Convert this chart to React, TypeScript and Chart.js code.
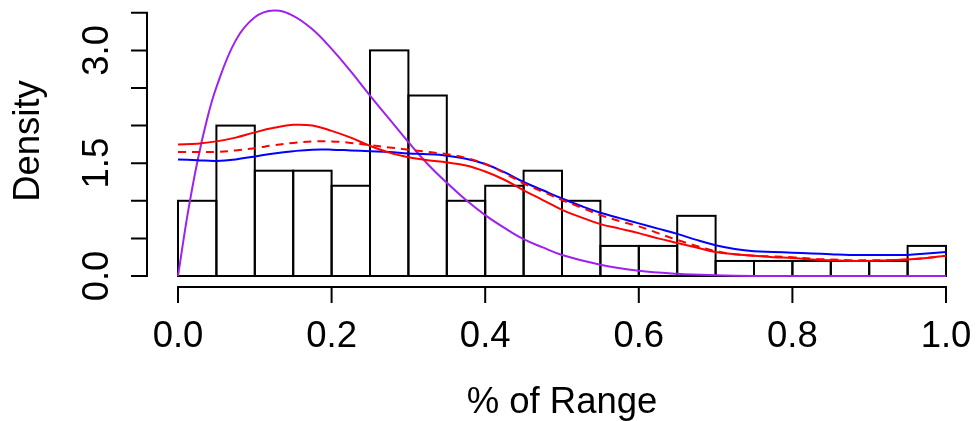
import React, { useEffect, useRef } from "react";
import { Chart, registerables } from "chart.js";

Chart.register(...registerables);

// Histogram bins (centres) and densities
const binCenters = [
  0.025, 0.075, 0.125, 0.175, 0.225, 0.275, 0.325, 0.375, 0.425, 0.475,
  0.525, 0.575, 0.625, 0.675, 0.725, 0.775, 0.825, 0.875, 0.925, 0.975,
];
const binDensity = [
  1.0, 2.0, 1.4, 1.4, 1.2, 3.0, 2.4, 1.0, 1.2, 1.4,
  1.0, 0.4, 0.4, 0.8, 0.2, 0.2, 0.2, 0.2, 0.2, 0.4,
];

// Purple curve
const purpleX = [
  0, 0.0125, 0.025, 0.0375, 0.05, 0.075, 0.1, 0.125, 0.15, 0.175, 0.2, 0.225,
  0.25, 0.275, 0.3, 0.325, 0.35, 0.375, 0.4, 0.425, 0.45, 0.475, 0.5, 0.55,
  0.6, 0.65, 0.7, 0.75, 0.8, 0.85, 0.9, 0.95, 1.0,
];
const purpleY = [
  0, 0.82, 1.51, 2.07, 2.51, 3.13, 3.44, 3.53, 3.46, 3.28, 3.02, 2.72,
  2.4, 2.09, 1.78, 1.49, 1.24, 1.01, 0.81, 0.64, 0.49, 0.38, 0.28, 0.15,
  0.07, 0.03, 0.01, 0.0, 0.0, 0.0, 0.0, 0.0, 0.0,
];

// Smooth curves (red solid, red dashed, blue)
const curveX = [
  0, 0.025, 0.05, 0.075, 0.1, 0.125, 0.15, 0.175, 0.2, 0.225, 0.25, 0.275,
  0.3, 0.325, 0.35, 0.375, 0.4, 0.425, 0.45, 0.475, 0.5, 0.525, 0.55, 0.575,
  0.6, 0.625, 0.65, 0.675, 0.7, 0.725, 0.75, 0.775, 0.8, 0.825, 0.85, 0.875,
  0.9, 0.925, 0.95, 0.975, 1.0,
];
const redSolidY = [
  1.75, 1.76, 1.79, 1.84, 1.91, 1.97, 2.01, 2.0, 1.93, 1.84, 1.73, 1.64,
  1.58, 1.54, 1.51, 1.47, 1.39, 1.28, 1.14, 1.01, 0.88, 0.78, 0.69, 0.63,
  0.57, 0.5, 0.44, 0.38, 0.32, 0.29, 0.27, 0.25, 0.24, 0.22, 0.21, 0.2,
  0.2, 0.21, 0.22, 0.24, 0.27,
];
const redDashedY = [
  1.65, 1.65, 1.65, 1.67, 1.7, 1.74, 1.77, 1.79, 1.79, 1.77, 1.74, 1.71,
  1.68, 1.65, 1.62, 1.57, 1.49, 1.37, 1.23, 1.12, 1.01, 0.91, 0.81, 0.73,
  0.66, 0.57, 0.48, 0.4, 0.33, 0.29, 0.27, 0.26, 0.25, 0.23, 0.22, 0.21,
  0.21, 0.21, 0.22, 0.24, 0.27,
];
const blueY = [
  1.55, 1.54, 1.53, 1.55, 1.59, 1.63, 1.66, 1.68, 1.68, 1.67, 1.66, 1.65,
  1.63, 1.62, 1.6, 1.56, 1.49, 1.38, 1.25, 1.14, 1.03, 0.93, 0.84, 0.77,
  0.7, 0.63, 0.56, 0.48, 0.41, 0.36, 0.33, 0.32, 0.31, 0.3, 0.29, 0.28,
  0.28, 0.28, 0.28, 0.3, 0.32,
];

// Axis ticks
const xTicks = [0, 0.2, 0.4, 0.6, 0.8, 1.0];
const xTickLabels = ["0.0", "0.2", "0.4", "0.6", "0.8", "1.0"];
const yTicks = [0, 0.5, 1.0, 1.5, 2.0, 2.5, 3.0, 3.5];
const yLabelTicks = [0, 1.5, 3.0];
const yTickLabels = ["0.0", "1.5", "3.0"];
const xTitle = "% of Range";
const yTitle = "Density";

const FONT = '36.5px "Liberation Sans", Arial, Helvetica, sans-serif';

const zip = (xs: number[], ys: number[]) => xs.map((x, i) => ({ x, y: ys[i] }));

const histOutline = {
  id: "histOutline",
  afterDatasetDraw(chart: any, args: any) {
    if (args.meta.type !== "bar") return;
    const ctx = chart.ctx;
    ctx.save();
    ctx.strokeStyle = "#000";
    ctx.lineWidth = 2;
    args.meta.data.forEach((el: any) => {
      const p = el.getProps(["x", "y", "base", "width"], true);
      ctx.strokeRect(p.x - p.width / 2, p.y, p.width, p.base - p.y);
    });
    ctx.restore();
  },
};

const rAxes = {
  id: "rAxes",
  afterDraw(chart: any) {
    const ctx = chart.ctx;
    const xs = chart.scales.x;
    const ys = chart.scales.y;
    const xAxisY = 287;
    const yAxisX = 147;
    const tick = 16;
    ctx.save();
    ctx.strokeStyle = "#000";
    ctx.fillStyle = "#000";
    ctx.lineWidth = 2;
    ctx.lineCap = "butt";
    // x axis
    const x0 = xs.getPixelForValue(xTicks[0]);
    const x1 = xs.getPixelForValue(xTicks[xTicks.length - 1]);
    ctx.beginPath();
    ctx.moveTo(x0 - 1, xAxisY);
    ctx.lineTo(x1 + 1, xAxisY);
    xTicks.forEach((v) => {
      const px = xs.getPixelForValue(v);
      ctx.moveTo(px, xAxisY);
      ctx.lineTo(px, xAxisY + tick);
    });
    ctx.stroke();
    // y axis
    const y0 = ys.getPixelForValue(yTicks[0]);
    const y1 = ys.getPixelForValue(yTicks[yTicks.length - 1]);
    ctx.beginPath();
    ctx.moveTo(yAxisX, y0 + 1);
    ctx.lineTo(yAxisX, y1 - 1);
    yTicks.forEach((v) => {
      const py = ys.getPixelForValue(v);
      ctx.moveTo(yAxisX, py);
      ctx.lineTo(yAxisX - tick, py);
    });
    ctx.stroke();
    ctx.font = FONT;
    // x labels
    ctx.textAlign = "center";
    ctx.textBaseline = "alphabetic";
    xTicks.forEach((v, i) => {
      ctx.fillText(xTickLabels[i], xs.getPixelForValue(v), 347);
    });
    ctx.fillText(xTitle, (x0 + x1) / 2, 413);
    // y labels (rotated)
    yLabelTicks.forEach((v, i) => {
      const py = ys.getPixelForValue(v);
      ctx.save();
      ctx.translate(108, py);
      ctx.rotate(-Math.PI / 2);
      ctx.fillText(yTickLabels[i], 0, 0);
      ctx.restore();
    });
    ctx.save();
    ctx.translate(39, 141);
    ctx.rotate(-Math.PI / 2);
    ctx.fillText(yTitle, 0, 0);
    ctx.restore();
    ctx.restore();
  },
};

export default function App() {
  const ref = useRef<HTMLCanvasElement | null>(null);
  useEffect(() => {
    if (!ref.current) return;
    const lineBase = {
      type: "line" as const,
      pointRadius: 0,
      borderWidth: 2,
      fill: false,
      tension: 0.4,
      clip: false as any,
    };
    const chart = new Chart(ref.current, {
      type: "bar",
      data: {
        datasets: [
          { ...lineBase, label: "red", data: zip(curveX, redSolidY), borderColor: "#FF0000", order: 0 },
          { ...lineBase, label: "red dashed", data: zip(curveX, redDashedY), borderColor: "#FF0000", borderDash: [8, 6], order: 1 },
          { ...lineBase, label: "blue", data: zip(curveX, blueY), borderColor: "#0000FF", order: 2 },
          { ...lineBase, label: "purple", data: zip(purpleX, purpleY), borderColor: "#A020F0", order: 3 },
          {
            type: "bar" as const,
            label: "hist",
            data: zip(binCenters, binDensity),
            backgroundColor: "rgba(0,0,0,0)",
            borderWidth: 0,
            barPercentage: 1,
            categoryPercentage: 1,
            order: 10,
          } as any,
        ],
      },
      options: {
        responsive: false,
        animation: false,
        devicePixelRatio: 1,
        layout: { padding: { left: 178, right: 30, top: 0, bottom: 145 } },
        plugins: { legend: { display: false }, tooltip: { enabled: false }, title: { display: false } },
        scales: {
          x: { type: "linear", min: 0, max: 1, offset: false, display: false, ticks: { stepSize: 0.1 } },
          y: { type: "linear", min: 0, max: 3.67, display: false },
        },
      },
      plugins: [histOutline, rAxes],
    } as any);
    return () => chart.destroy();
  }, []);
  return (
    <div style={{ position: "fixed", left: 0, top: 0, width: 976, height: 421, background: "#fff" }}>
      <canvas ref={ref} width={976} height={421} style={{ display: "block" }} />
    </div>
  );
}
